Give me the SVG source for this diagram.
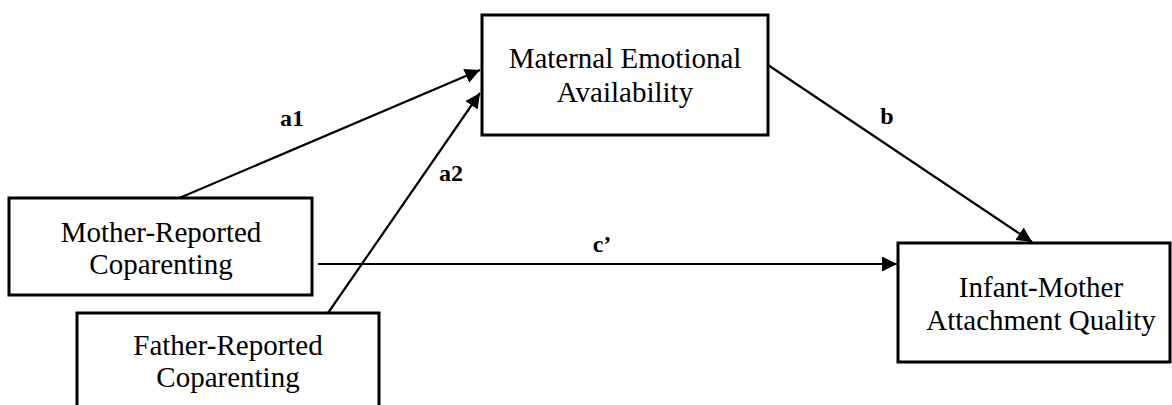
<svg xmlns="http://www.w3.org/2000/svg" width="1172" height="405" viewBox="0 0 1172 405">
<style>
.box{fill:#fff;stroke:#000;stroke-width:3}
.t{font-family:"Liberation Serif","Times New Roman",serif;font-size:29px;fill:#000;text-anchor:middle}
.lbl{font-family:"Liberation Serif","Times New Roman",serif;font-size:24px;font-weight:bold;fill:#000;text-anchor:middle}
.c{stroke:#000;stroke-width:2.2;fill:none;marker-end:url(#ah)}
</style>
<defs>
<marker id="ah" markerUnits="userSpaceOnUse" markerWidth="16" markerHeight="16" refX="15" refY="7.5" orient="auto" viewBox="0 0 16 16">
<path d="M0,0 L15,7.5 L0,15 Z" fill="#000"/>
</marker>
</defs>
<rect width="1172" height="405" fill="#fff"/>
<g id="connectors">
<line class="c" x1="177" y1="199" x2="480" y2="70"/>
<line class="c" x1="328" y1="313" x2="480" y2="93"/>
<line class="c" x1="768" y1="65" x2="1032" y2="242"/>
<line class="c" x1="318" y1="264" x2="897" y2="264"/>
<text class="lbl" x="292" y="126">a1</text>
<text class="lbl" x="451" y="181">a2</text>
<text class="lbl" x="887" y="124">b</text>
<text class="lbl" x="602" y="252">c’</text>
</g>
<g id="maternal">
<rect class="box" x="482" y="15" width="286" height="120"/>
<text class="t" x="625" y="68">Maternal Emotional</text>
<text class="t" x="625" y="102">Availability</text>
</g>
<g id="mother">
<rect class="box" x="9" y="198" width="303" height="97"/>
<text class="t" x="161" y="242">Mother-Reported</text>
<text class="t" x="161" y="274">Coparenting</text>
</g>
<g id="father">
<rect class="box" x="77" y="313" width="302" height="110"/>
<text class="t" x="228" y="355">Father-Reported</text>
<text class="t" x="228" y="387">Coparenting</text>
</g>
<g id="infant">
<rect class="box" x="898" y="243" width="272" height="119"/>
<text class="t" x="1041" y="297">Infant-Mother</text>
<text class="t" x="1041" y="330">Attachment Quality</text>
</g>
</svg>
